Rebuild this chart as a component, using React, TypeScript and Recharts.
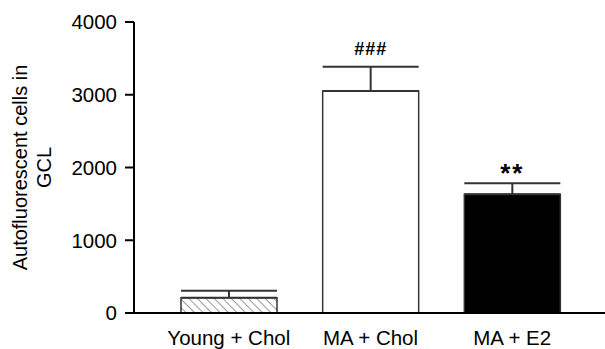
import { BarChart, Bar, XAxis, YAxis, ErrorBar, Cell, Label } from 'recharts'

const groups = ['Young + Chol', 'MA + Chol', 'MA + E2']
const means = [210, 3052, 1632]
const sems = [96, 334, 151]
const marks = ['', '###', '**']
const yTicks = [0, 1000, 2000, 3000, 4000]

const data = groups.map((g, i) => ({
  group: g,
  mean: means[i],
  err: [0, sems[i]],
  mark: marks[i],
}))

const FONT = 'Liberation Sans, Arial, Helvetica, sans-serif'

function MarkLabel(props: any) {
  const { x, y, width, height, index } = props
  const mark = marks[index]
  if (!mark) return null
  const errPx = (height / means[index]) * sems[index]
  const capY = y - errPx
  const big = mark === '**'
  return (
    <text
      x={x + width / 2}
      y={big ? capY - 1 : capY - 12}
      textAnchor="middle"
      fontFamily={FONT}
      fontWeight="bold"
      fontSize={big ? 26 : 18}
      letterSpacing={big ? 2 : 1}
      fill="#000"
    >
      {mark}
    </text>
  )
}

function YTitle(props: any) {
  const cy = props.viewBox.y + props.viewBox.height / 2
  return (
    <text
      transform={`translate(0, ${cy}) rotate(-90)`}
      textAnchor="middle"
      fontFamily={FONT}
      fontSize={20}
      fill="#000"
    >
      <tspan x={0} y={27}>Autofluorescent cells in</tspan>
      <tspan x={0} y={51}>GCL</tspan>
    </text>
  )
}

export default function App() {
  return (
    <div style={{ position: 'absolute', left: 0, top: 0, background: '#fff' }}>
      <BarChart
        width={605}
        height={349}
        data={data}
        margin={{ top: 22, right: 0, bottom: 6, left: 0 }}
        barCategoryGap={23}
      >
        <defs>
          <pattern id="hatch" patternUnits="userSpaceOnUse" width={6} height={6} patternTransform="rotate(-45)">
            <rect width={6} height={6} fill="#fff" />
            <line x1={0} y1={0} x2={0} y2={6} stroke="#555" strokeWidth={1.2} />
          </pattern>
        </defs>
        <XAxis
          dataKey="group"
          height={30}
          tickLine={false}
          tickSize={0}
          tickMargin={17}
          padding={{ left: 24, right: 22 }}
          axisLine={{ stroke: '#000', strokeWidth: 2 }}
          tick={{ fontFamily: FONT, fontSize: 20.5, fill: '#000' }}
        />
        <YAxis
          width={134}
          domain={[0, 4000]}
          ticks={yTicks}
          tickSize={9}
          tickMargin={8}
          interval={0}
          axisLine={{ stroke: '#000', strokeWidth: 2 }}
          tickLine={{ stroke: '#000', strokeWidth: 2 }}
          tick={{ fontFamily: FONT, fontSize: 20.5, fill: '#000' }}
        >
          <Label content={YTitle} />
        </YAxis>
        <Bar
          dataKey="mean"
          stroke="#333"
          strokeWidth={1.5}
          isAnimationActive={false}
          label={MarkLabel}
        >
          <Cell fill="url(#hatch)" />
          <Cell fill="#fff" />
          <Cell fill="#000" />
          <ErrorBar dataKey="err" direction="y" width={48} stroke="#333" strokeWidth={2} />
        </Bar>
      </BarChart>
    </div>
  )
}
